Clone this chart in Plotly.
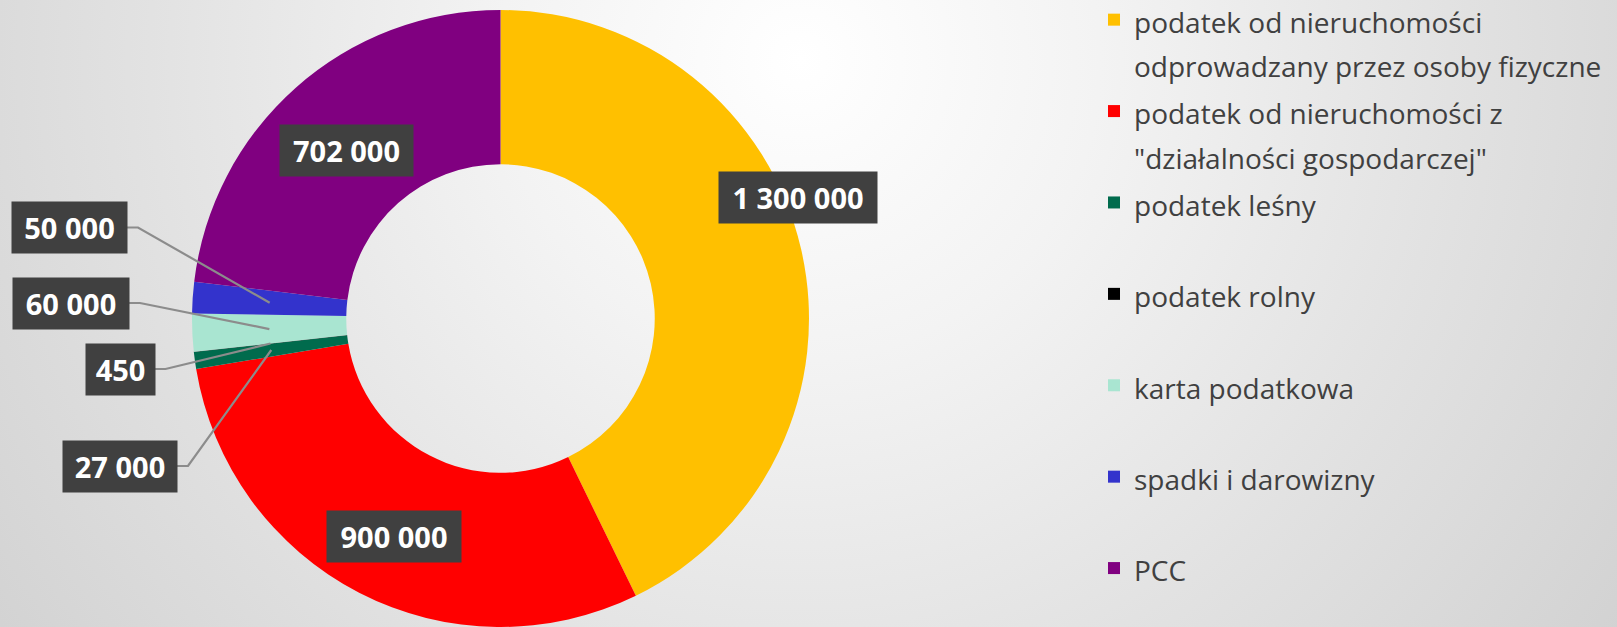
import math
import base64
import plotly.graph_objects as go

W, H = 1617, 627

# ---- data ----
categories = [
    "podatek od nieruchomości<br>odprowadzany przez osoby fizyczne",
    "podatek od nieruchomości z<br>\"działalności gospodarczej\"",
    "podatek leśny",
    "podatek rolny",
    "karta podatkowa",
    "spadki i darowizny",
    "PCC",
]
values = [1300000, 900000, 27000, 450, 60000, 50000, 702000]
colors = ["#FFC000", "#FF0000", "#006B4D", "#000000", "#A9E5D1", "#3333CC", "#800080"]

# ---- layout helpers (pixel positions of label boxes) ----
label_centers = [(798, 197.5), (394, 536), (120, 466), (120, 369), (71, 303), (69.5, 227.5), (346.5, 150)]
label_widths = [158, 134, 114, 69, 116, 115, 133]
label_height = 51
leader = [False, False, True, True, True, True, False]

CX, CY, R = 500.5, 318.5, 308.5
HOLE = 0.5

def fmt(v):
    return f"{v:,}".replace(",", " ")

def px2paper(x, y):
    return x / W, 1 - y / H

# legend labels: visible text size with large line spacing
legend_labels = []
for i, c in enumerate(categories):
    lines = c.split("<br>")
    txt = "<br>".join(f"<span style='font-size:28px'>{l}</span>" for l in lines)
    if len(lines) == 1 and i < len(categories) - 1:
        txt += "<br> "
    legend_labels.append(txt)

fig = go.Figure()
fig.add_trace(go.Pie(
    labels=legend_labels,
    values=values,
    marker=dict(colors=colors, line=dict(width=0)),
    hole=HOLE,
    sort=False,
    direction="clockwise",
    rotation=0,
    textinfo="none",
    hoverinfo="label+value",
    domain=dict(x=[(CX - R) / W, (CX + R) / W], y=[(H - CY - R) / H, (H - CY + R) / H]),
))

# ---- data labels and leader lines ----
total = sum(values)
annotations = []
shapes = []
cum = 0.0
for i, v in enumerate(values):
    mid = (cum + v / 2) / total * 2 * math.pi
    cum += v
    lx, ly = label_centers[i]
    w = label_widths[i]
    px, py = px2paper(lx, ly)
    annotations.append(dict(
        x=px, y=py, xref="paper", yref="paper", xanchor="center", yanchor="middle",
        text=fmt(v), showarrow=False, width=w, height=label_height, borderpad=0,
        bgcolor="#404040", align="center", valign="middle",
        font=dict(family="Open Sans", size=29, color="white", weight="bold"),
    ))
    if leader[i]:
        rm = R * (1 + HOLE) / 2
        ax = CX + rm * math.sin(mid)
        ay = CY - rm * math.cos(mid)
        x0, y0 = lx + w / 2, ly
        x1, y1 = x0 + 11, ly
        p0 = px2paper(x0, y0); p1 = px2paper(x1, y1); p2 = px2paper(ax, ay)
        shapes.append(dict(
            type="path", xref="paper", yref="paper",
            path=f"M{p0[0]},{p0[1]} L{p1[0]},{p1[1]} L{p2[0]},{p2[1]}",
            line=dict(color="#8C8C8C", width=2.2),
        ))

# ---- background gradient ----
svg = f"""<svg xmlns='http://www.w3.org/2000/svg' width='{W}' height='{H}' viewBox='0 0 {W} {H}' preserveAspectRatio='none'>
<defs><radialGradient id='g' gradientUnits='userSpaceOnUse' cx='800' cy='60' r='1000'>
<stop offset='0' stop-color='#ffffff'/>
<stop offset='0.3' stop-color='#f3f3f3'/>
<stop offset='0.65' stop-color='#e2e2e2'/>
<stop offset='1' stop-color='#d2d2d2'/>
</radialGradient></defs>
<rect width='{W}' height='{H}' fill='url(#g)'/>
</svg>"""
bg = "data:image/svg+xml;base64," + base64.b64encode(svg.encode()).decode()

fig.update_layout(
    width=W, height=H,
    margin=dict(l=0, r=0, t=0, b=0, autoexpand=False),
    paper_bgcolor="#e6e6e6",
    plot_bgcolor="rgba(0,0,0,0)",
    images=[dict(source=bg, xref="paper", yref="paper", x=0, y=1, sizex=1, sizey=1,
                 sizing="stretch", layer="below", xanchor="left", yanchor="top")],
    showlegend=True,
    legend=dict(
        x=1094 / W, y=0.531, xanchor="left", yanchor="middle",
        font=dict(family="Open Sans", size=34, color="#404040"),
        valign="top", bgcolor="rgba(0,0,0,0)", traceorder="normal",
    ),
    annotations=annotations,
    shapes=shapes,
)

fig.write_html("out.html", config={"displayModeBar": False},
               post_script="document.body.style.margin='0';document.body.style.overflow='hidden';")
